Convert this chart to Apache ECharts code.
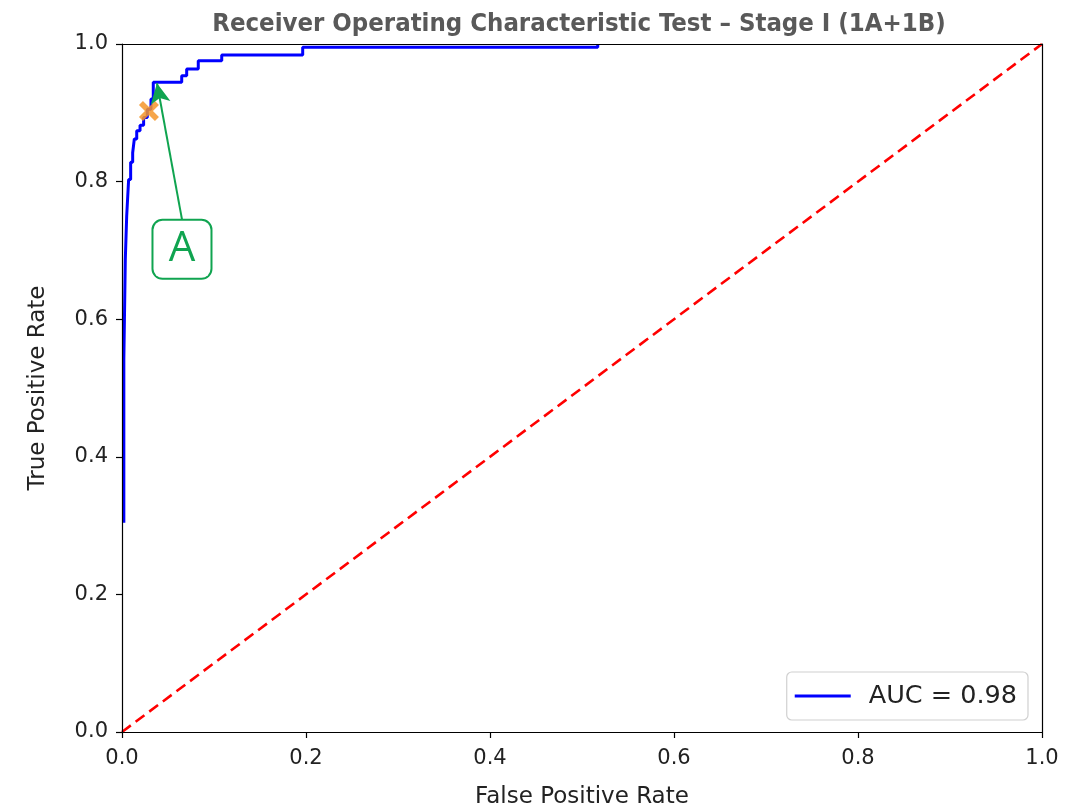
<!DOCTYPE html>
<html>
<head>
<meta charset="utf-8">
<script src="https://cdn.jsdelivr.net/npm/echarts@6/dist/echarts.min.js"></script>
<style>
html,body{margin:0;padding:0;background:#fff;}
#chart{width:1081px;height:810px;}
</style>
</head>
<body>
<div id="chart"></div>
<script>
// ROC curve corner points
const fpr = [0.002, 0.002, 0.0036, 0.0036, 0.0051, 0.0051, 0.0072, 0.0072, 0.0094, 0.0094,
  0.0116, 0.0116, 0.0134, 0.0134, 0.016, 0.016, 0.0196, 0.0196, 0.0235, 0.0235,
  0.0275, 0.0275, 0.0315, 0.0315, 0.034, 0.034, 0.0649, 0.0649, 0.0703, 0.0703,
  0.0829, 0.0829, 0.1084, 0.1084, 0.1964, 0.1964, 0.5171, 0.5171];
const tpr = [0.304, 0.541, 0.541, 0.687, 0.687, 0.750, 0.750, 0.803, 0.803, 0.828,
  0.828, 0.842, 0.842, 0.862, 0.862, 0.874, 0.874, 0.882, 0.882, 0.893,
  0.893, 0.905, 0.905, 0.920, 0.920, 0.9443, 0.9443, 0.9539, 0.9539, 0.9636,
  0.9636, 0.9757, 0.9757, 0.9840, 0.9840, 0.9952, 0.9952, 1.0];
const chancePoints = [[0, 0], [1, 1]];
const optimalPoint = [0.0293, 0.9025];
const annotationArrowFrom = [0.0652, 0.745];
const annotationArrowTo = [0.038, 0.943];
const annotationBoxAt = [0.0652, 0.7016];
const annotationText = 'A';
const tickLabels = ['0.0', '0.2', '0.4', '0.6', '0.8', '1.0'];
const legendLabel = 'AUC = 0.98';
const titleText = 'Receiver Operating Characteristic Test \u2013 Stage I (1A+1B)';

const rocData = fpr.map((x, i) => [x, tpr[i]]);
const green = '#10a450';
const font = 'DejaVu Sans';

const chart = echarts.init(document.getElementById('chart'), null, {renderer: 'canvas'});
const baseAxis = {
  type: 'value', min: 0, max: 1, interval: 0.2,
  axisLine: {show: true, onZero: false, lineStyle: {color: '#000', width: 1.2}},
  axisTick: {show: true, length: 6, lineStyle: {color: '#000', width: 1.2}},
  splitLine: {show: false},
  axisLabel: {
    fontFamily: font, fontSize: 21, color: '#222',
    formatter: v => tickLabels[Math.round(v / 0.2)]
  },
  nameLocation: 'middle',
  nameTextStyle: {fontFamily: font, fontSize: 23, color: '#222'},
  z: 5
};
const borderAxis = {
  type: 'value', min: 0, max: 1, interval: 0.2,
  axisLine: {show: true, onZero: false, lineStyle: {color: '#000', width: 1.2}},
  axisTick: {show: false}, axisLabel: {show: false}, splitLine: {show: false},
  z: 5
};
chart.setOption({
  animation: false,
  backgroundColor: '#fff',
  title: {
    text: titleText,
    left: 574, top: 6, textAlign: 'center',
    textStyle: {fontFamily: '"Liberation Sans Narrow", "DejaVu Sans Condensed", "Open Sans"', fontWeight: 'bold', fontSize: 25.5, color: '#595959'}
  },
  grid: {left: 122, right: 39, top: 44, bottom: 78, containLabel: false, outerBoundsMode: 'none'},
  xAxis: [
    Object.assign({}, baseAxis, {position: 'bottom', name: 'False Positive Rate', nameGap: 54,
      axisLabel: Object.assign({}, baseAxis.axisLabel, {margin: 16})}),
    Object.assign({}, borderAxis, {position: 'top'})
  ],
  yAxis: [
    Object.assign({}, baseAxis, {position: 'left', name: 'True Positive Rate', nameGap: 72,
      axisLabel: Object.assign({}, baseAxis.axisLabel, {margin: 14})}),
    Object.assign({}, borderAxis, {position: 'right'})
  ],
  legend: {
    data: [{name: legendLabel, icon: 'rect'}],
    right: 53, bottom: 90,
    orient: 'vertical',
    itemWidth: 56, itemHeight: 3, itemGap: 10,
    padding: [11, 11, 11, 8],
    backgroundColor: '#fff',
    borderColor: '#d0d0d0', borderWidth: 1.2, borderRadius: 5,
    textStyle: {fontFamily: font, fontSize: 25.5, color: '#222', padding: [0, 0, 0, 13]}
  },
  series: [
    {
      name: 'chance', type: 'line', data: chancePoints, symbol: 'none',
      lineStyle: {color: '#ff0000', width: 2.6, type: [11, 6]}, z: 2, silent: true
    },
    {
      name: legendLabel, type: 'line', data: rocData, symbol: 'none',
      itemStyle: {color: '#0000ff'},
      lineStyle: {color: '#0000ff', width: 3}, z: 3, silent: true
    },
    {
      name: 'optimal', type: 'scatter', data: [optimalPoint],
      symbol: 'path://M0,2 L2,0 L5,3 L8,0 L10,2 L7,5 L10,8 L8,10 L5,7 L2,10 L0,8 L3,5 Z',
      symbolSize: 20,
      itemStyle: {color: '#f5962a', opacity: 0.85}, z: 4, silent: true
    },
    {
      name: 'annotation', type: 'line', data: [], symbol: 'none', z: 6, silent: true,
      markLine: {
        silent: true, animation: false,
        symbol: ['none', 'arrow'], symbolSize: [15, 20],
        label: {show: false},
        lineStyle: {color: green, width: 2, type: 'solid'},
        data: [[{coord: annotationArrowFrom}, {coord: annotationArrowTo}]]
      },
      markPoint: {
        silent: true, animation: false,
        symbol: 'circle', symbolSize: 1,
        itemStyle: {color: 'rgba(0,0,0,0)'},
        label: {
          show: true, position: 'inside', formatter: annotationText,
          fontFamily: '"Open Sans"', fontSize: 42, color: green,
          backgroundColor: '#fff', borderColor: green, borderWidth: 2, borderRadius: 9,
          width: 57, height: 57, lineHeight: 60, align: 'center', verticalAlign: 'middle'
        },
        data: [{coord: annotationBoxAt}]
      }
    }
  ]
});
</script>
</body>
</html>
